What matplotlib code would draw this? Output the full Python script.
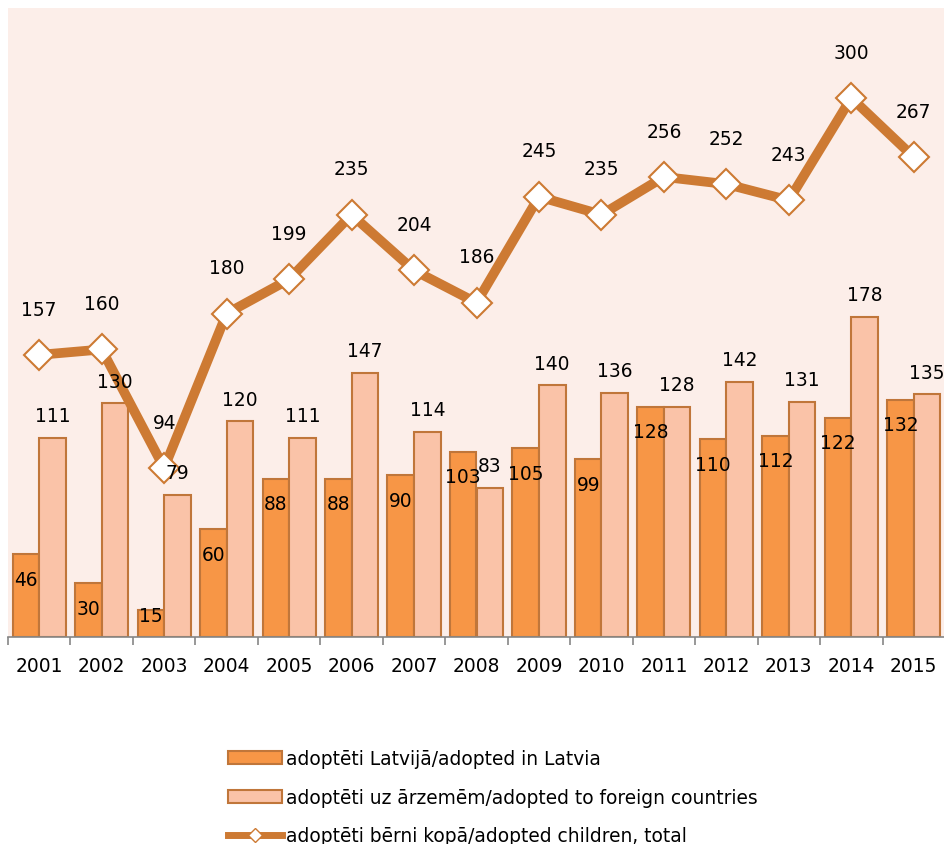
import matplotlib.pyplot as plt
import numpy as np
from matplotlib.lines import Line2D
from matplotlib.patches import Patch

years = ["2001", "2002", "2003", "2004", "2005", "2006", "2007", "2008",
         "2009", "2010", "2011", "2012", "2013", "2014", "2015"]
in_latvia = [46, 30, 15, 60, 88, 88, 90, 103, 105, 99, 128, 110, 112, 122, 132]
abroad = [111, 130, 79, 120, 111, 147, 114, 83, 140, 136, 128, 142, 131, 178, 135]
total = [157, 160, 94, 180, 199, 235, 204, 186, 245, 235, 256, 252, 243, 300, 267]

labels = ["adoptēti Latvijā/adopted in Latvia",
          "adoptēti uz ārzemēm/adopted to foreign countries",
          "adoptēti bērni kopā/adopted children, total"]

c_dark = "#F79646"
c_light = "#FAC3A8"
c_edge = "#C0763A"
c_line = "#CD7A33"
c_bg = "#FCEEE9"

plt.rcParams['font.family'] = ['DejaVu Sans']
fs = 13.4

fig = plt.figure(figsize=(9.45, 8.45), dpi=100)
ax = fig.add_axes([8/945, 1-638/845, 937/945, 629/845])
ax.set_facecolor(c_bg)

x = np.arange(len(years))
w = 0.425
ax.bar(x - w/2, in_latvia, w, color=c_dark, edgecolor=c_edge, linewidth=1.5, zorder=2)
ax.bar(x + w/2, abroad, w, color=c_light, edgecolor=c_edge, linewidth=1.5, zorder=2)
ax.plot(x, total, color=c_line, linewidth=7, marker='D', markersize=15,
        markerfacecolor='white', markeredgecolor=c_line, markeredgewidth=1.5, zorder=3)

# Zahlen an die Balken / Punkte schreiben
for i in range(len(years)):
    off = -18 if in_latvia[i] > 25 else -4
    ax.annotate(str(in_latvia[i]), (x[i] - w/2, in_latvia[i]), xytext=(0, off),
                textcoords='offset points', ha='center', va='center', fontsize=fs, zorder=5)
    ax.annotate(str(abroad[i]), (x[i] + w/2, abroad[i]), xytext=(0, 16),
                textcoords='offset points', ha='center', va='center', fontsize=fs, zorder=5)
    ax.annotate(str(total[i]), (x[i], total[i]), xytext=(0, 33),
                textcoords='offset points', ha='center', va='center', fontsize=fs, zorder=5)

ax.set_xlim(-0.5, len(years) - 0.5)
ax.set_ylim(0, 350)
ax.set_yticks([])
ax.set_xticks(x)
ax.set_xticklabels(years, fontsize=fs)
ax.set_xticks(np.arange(len(years) + 1) - 0.5, minor=True)
ax.tick_params(axis='x', which='major', length=0, pad=14)
ax.tick_params(axis='x', which='minor', length=6, color='#868686', width=1.2)
for s in ['left', 'right', 'top']:
    ax.spines[s].set_visible(False)
ax.spines['bottom'].set_color('#868686')
ax.spines['bottom'].set_linewidth(1.2)

handles = [Patch(facecolor=c_dark, edgecolor=c_edge, linewidth=1.5),
           Patch(facecolor=c_light, edgecolor=c_edge, linewidth=1.5),
           Line2D([], [], color=c_line, linewidth=5, marker='D', markersize=7,
                  markerfacecolor='white', markeredgecolor=c_line)]
fig.legend(handles, labels, loc='upper left', bbox_to_anchor=(228/945, 1-750/845),
           frameon=False, fontsize=fs, borderpad=0, borderaxespad=0,
           handlelength=2.9, handleheight=0.7, handletextpad=0.2, labelspacing=1.05)

fig.savefig("out.png", dpi=100)
